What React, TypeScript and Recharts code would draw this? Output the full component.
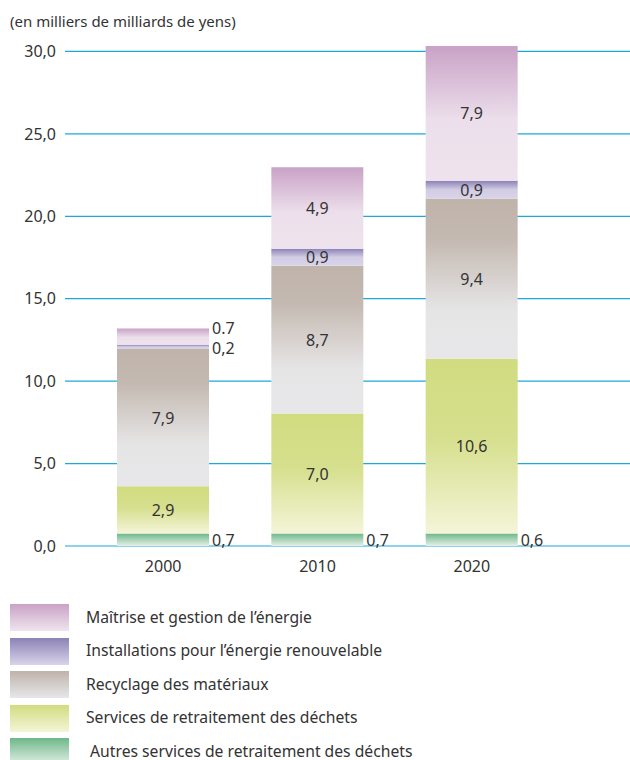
import { BarChart, Bar, XAxis, YAxis, CartesianGrid, LabelList } from 'recharts';

// bar heights as drawn (thousands of billions of yen), bottom to top
const years = ['2000', '2010', '2020'];
const autres = [0.76, 0.76, 0.76];
const services = [2.86, 7.27, 10.6];
const recyclage = [8.33, 8.97, 9.7];
const installations = [0.26, 1.03, 1.09];
const maitrise = [0.98, 4.95, 8.18];

// printed labels
const autresLabels = ['0,7', '0,7', '0,6'];
const servicesLabels = ['2,9', '7,0', '10,6'];
const recyclageLabels = ['7,9', '8,7', '9,4'];
const installationsLabels = ['0,2', '0,9', '0,9'];
const maitriseLabels = ['0.7', '4,9', '7,9'];

const yTicks = [0, 5, 10, 15, 20, 25, 30];
const yMax = 30.33;

const seriesNames = [
  'Maîtrise et gestion de l’énergie',
  'Installations pour l’énergie renouvelable',
  'Recyclage des matériaux',
  'Services de retraitement des déchets',
  ' Autres services de retraitement des déchets',
];

const data = years.map((year, i) => ({
  year,
  autres: autres[i],
  services: services[i],
  recyclage: recyclage[i],
  installations: installations[i],
  maitrise: maitrise[i],
}));

const TEXT = '#333333';
const FONT = '"Noto Sans", "Open Sans", sans-serif';

const swatches = [
  ['#c9a2c6', '#efe4ee'],
  ['#8b82b6', '#d9d4ea'],
  ['#bfb3aa', '#e7e7e9'],
  ['#d1dc80', '#f4f5d8'],
  ['#6db88a', '#e6f0e8'],
];

type Mode = 'inside' | 'right' | 'rightTop';

function makeLabel(labels: string[], modeFor: (i: number) => Mode) {
  return (props: any) => {
    const { x, y, width, height, index } = props;
    const mode = modeFor(index);
    const text = labels[index];
    if (mode === 'inside') {
      return (
        <text
          x={x + width / 2}
          y={y + height / 2}
          textAnchor="middle"
          dominantBaseline="central"
          fill={TEXT}
          fontSize={16}
          fontFamily={FONT}
        >
          {text}
        </text>
      );
    }
    const ly = mode === 'rightTop' ? y - 1 : y + height / 2 + (height < 6 ? 1 : 0);
    return (
      <text
        x={x + width + 3}
        y={ly}
        textAnchor="start"
        dominantBaseline="central"
        fill={TEXT}
        fontSize={16}
        fontFamily={FONT}
      >
        {text}
      </text>
    );
  };
}

// grid lines only at the axis ticks (not at the top edge of the plot)
function gridLines(props: any) {
  const { yAxis, offset } = props;
  if (yAxis && typeof yAxis.scale === 'function') {
    return yTicks.map((t) => yAxis.scale(t));
  }
  return yTicks.map((t) => offset.top + offset.height * (1 - t / yMax));
}

export default function App() {
  const fmt = (v: number) => v.toFixed(1).replace('.', ',');

  return (
    <div
      style={{
        position: 'absolute',
        left: 0,
        top: 0,
        width: 630,
        height: 760,
        overflow: 'hidden',
        background: '#fff',
        fontFamily: FONT,
        color: TEXT,
      }}
    >
      <div style={{ position: 'absolute', left: 10, top: 11, fontSize: 15 }}>
        (en milliers de milliards de yens)
      </div>

      <BarChart
        width={630}
        height={600}
        data={data}
        margin={{ top: 46, right: 0, bottom: 24, left: 0 }}
        style={{ position: 'absolute', left: 0, top: 0 }}
      >
        <defs>
          <linearGradient id="gMaitrise" x1="0" y1="0" x2="0" y2="1">
            <stop offset="0" stopColor="#c9a2c6" />
            <stop offset="0.55" stopColor="#ecdfeb" />
            <stop offset="1" stopColor="#eee3ed" />
          </linearGradient>
          <linearGradient id="gInstall" x1="0" y1="0" x2="0" y2="1">
            <stop offset="0" stopColor="#8b82b6" />
            <stop offset="0.5" stopColor="#d3cde4" />
            <stop offset="1" stopColor="#d8d3e8" />
          </linearGradient>
          <linearGradient id="gRecyc" x1="0" y1="0" x2="0" y2="1">
            <stop offset="0" stopColor="#bfb3aa" />
            <stop offset="0.25" stopColor="#c4b9b1" />
            <stop offset="0.7" stopColor="#e6e5e6" />
            <stop offset="1" stopColor="#e7e7e9" />
          </linearGradient>
          <linearGradient id="gServices" x1="0" y1="0" x2="0" y2="1">
            <stop offset="0" stopColor="#d1dc80" />
            <stop offset="0.45" stopColor="#d6df8d" />
            <stop offset="1" stopColor="#f4f5d8" />
          </linearGradient>
          <linearGradient id="gAutres" x1="0" y1="0" x2="0" y2="1">
            <stop offset="0" stopColor="#6db88a" />
            <stop offset="1" stopColor="#e6f0e8" />
          </linearGradient>
        </defs>
        <CartesianGrid
          vertical={false}
          stroke="#1fa7dc"
          strokeWidth={1.2}
          horizontalCoordinatesGenerator={gridLines}
        />
        <XAxis
          dataKey="year"
          axisLine={false}
          tickLine={false}
          height={30}
          padding={{ left: 21, right: 81 }}
          tickMargin={9}
          tick={{ fill: TEXT, fontSize: 16, fontFamily: FONT }}
        />
        <YAxis
          width={65}
          domain={[0, yMax]}
          ticks={yTicks}
          axisLine={false}
          tickLine={false}
          tickMargin={3}
          tickFormatter={fmt}
          tick={{ fill: TEXT, fontSize: 16, fontFamily: FONT }}
        />
        <Bar dataKey="autres" stackId="a" barSize={92} fill="url(#gAutres)" isAnimationActive={false}>
          <LabelList content={makeLabel(autresLabels, () => 'right')} />
        </Bar>
        <Bar dataKey="services" stackId="a" barSize={92} fill="url(#gServices)" isAnimationActive={false}>
          <LabelList content={makeLabel(servicesLabels, () => 'inside')} />
        </Bar>
        <Bar dataKey="recyclage" stackId="a" barSize={92} fill="url(#gRecyc)" isAnimationActive={false}>
          <LabelList content={makeLabel(recyclageLabels, () => 'inside')} />
        </Bar>
        <Bar dataKey="installations" stackId="a" barSize={92} fill="url(#gInstall)" isAnimationActive={false}>
          <LabelList content={makeLabel(installationsLabels, (i) => (i === 0 ? 'right' : 'inside'))} />
        </Bar>
        <Bar dataKey="maitrise" stackId="a" barSize={92} fill="url(#gMaitrise)" isAnimationActive={false}>
          <LabelList content={makeLabel(maitriseLabels, (i) => (i === 0 ? 'rightTop' : 'inside'))} />
        </Bar>
      </BarChart>

      {seriesNames.map((name, i) => (
        <div
          key={name}
          style={{
            position: 'absolute',
            left: 10,
            top: 604 + i * 33.5,
            height: 27,
            display: 'flex',
            alignItems: 'center',
          }}
        >
          <div
            style={{
              width: 59,
              height: 27,
              background: `linear-gradient(to bottom, ${swatches[i][0]}, ${swatches[i][1]})`,
            }}
          />
          <span
            style={{
              marginLeft: 17,
              fontSize: 15.7,
              lineHeight: '16px',
              whiteSpace: 'pre',
              position: 'relative',
              top: -1,
            }}
          >
            {name}
          </span>
        </div>
      ))}
    </div>
  );
}
